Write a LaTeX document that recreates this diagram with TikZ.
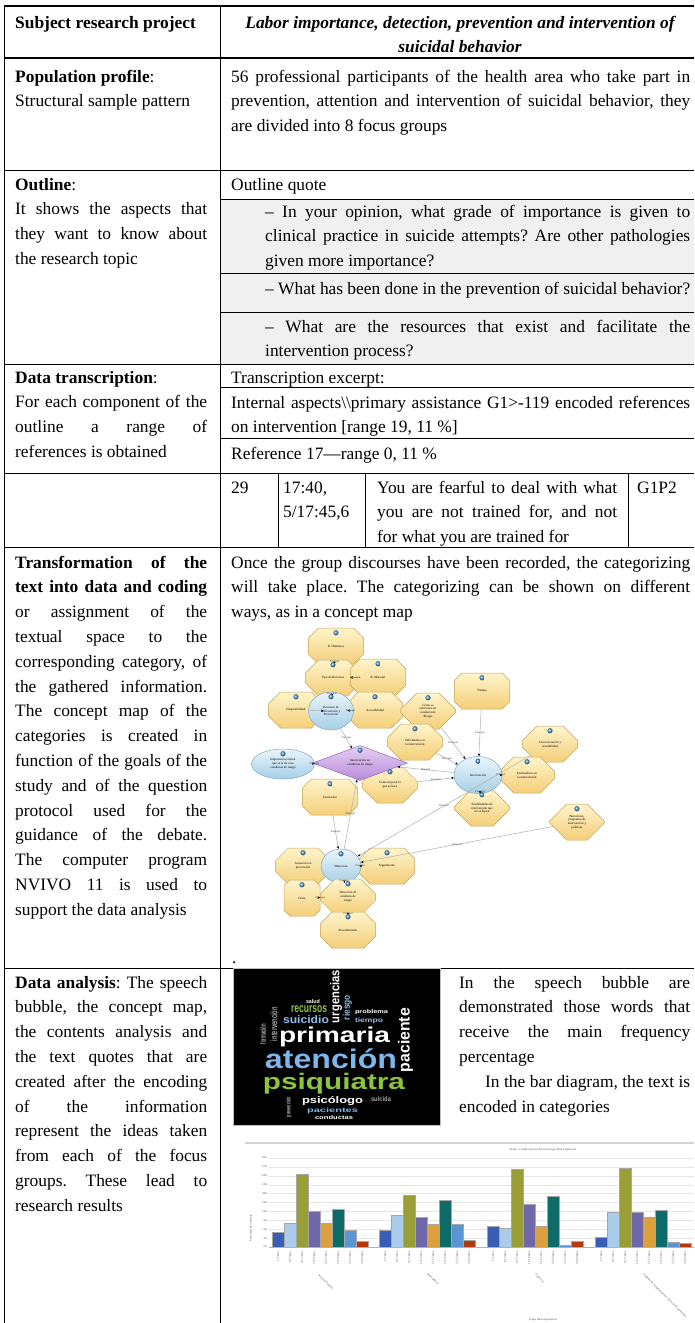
\documentclass[tikz,border=0pt]{standalone}
\usepackage{fontspec}
\usepackage{graphicx}
\setmainfont{Liberation Serif}
\newfontfamily\cloudfont{Liberation Sans}
\usetikzlibrary{arrows.meta, calc, shapes.geometric, shapes.misc}
\definecolor{quotebg}{HTML}{F0F0F0}
\definecolor{octtop}{HTML}{FFF4CC}
\definecolor{octbot}{HTML}{F4CF78}
\definecolor{octline}{HTML}{C4A45A}
\definecolor{bubtop}{HTML}{EAF5FB}
\definecolor{bubbot}{HTML}{A6CFE6}
\definecolor{bubline}{HTML}{7FA9C4}
\definecolor{diatop}{HTML}{E6D0F4}
\definecolor{diabot}{HTML}{B98AD8}
\definecolor{dialine}{HTML}{9467B8}
\definecolor{knobc}{HTML}{4A9AD8}
\definecolor{atenc}{HTML}{7DB6EC}
\definecolor{psiq}{HTML}{8CC43C}
\definecolor{suic}{HTML}{8FBDE9}
\definecolor{bar1}{HTML}{3A5DB5}
\definecolor{bar2}{HTML}{A9CCEA}
\definecolor{bar3}{HTML}{9A9E36}
\definecolor{bar4}{HTML}{6F68A8}
\definecolor{bar5}{HTML}{DDA03E}
\definecolor{bar6}{HTML}{0E6B67}
\definecolor{bar7}{HTML}{5B94D2}
\definecolor{bar8}{HTML}{B23A0E}
\frenchspacing
\newcommand\jl[1]{\makebox[\linewidth][s]{#1}\par}
\newcommand\mapfont{\fontsize{3.2}{3.8}\selectfont}
\newcommand\wc[3]{\resizebox*{#1pt}{#2pt}{\cloudfont\bfseries #3}}
\tikzset{
    cell/.style={anchor=base west, inner sep=0pt},
    rul/.style={line width=0.9pt},
    thk/.style={line width=2.6pt},
    oct/.style={chamfered rectangle, chamfered rectangle xsep=16pt, chamfered rectangle ysep=11pt, minimum width=55pt, minimum height=36pt, inner sep=0.5pt, draw=octline, line width=0.5pt, top color=octtop, bottom color=octbot, align=center, font=\mapfont},
    bub/.style={ellipse, draw=bubline, line width=0.5pt, top color=bubtop, bottom color=bubbot, minimum width=45pt, minimum height=38pt, inner sep=0pt, align=center, font=\mapfont},
    rhomb/.style={diamond, aspect=2.7, draw=dialine, line width=0.5pt, top color=diatop, bottom color=diabot, minimum width=95pt, minimum height=35pt, inner sep=0pt, align=center, font=\mapfont},
    ed/.style={draw=gray!60, line width=0.55pt, -{Stealth[length=2.8pt, width=2.4pt, color=black]}},
    lbl/.style={font=\fontsize{2.6}{3}\selectfont, inner sep=0.3pt, text=black!80},
    knob/.style={ball color=knobc},
    cw/.style={inner sep=0pt},
    tk/.style={font=\fontsize{2.8}{3}\selectfont, inner sep=0.5pt, text=black!75},
    gridln/.style={draw=gray!20, line width=0.3pt}
}
\begin{document}
\begin{tikzpicture}[x=1pt, y=-1pt, font=\fontsize{17.4}{24.8}\selectfont]
\useasboundingbox (0,0) rectangle (694,1323);
\fill[quotebg] (220,199) rectangle (694,364);
\draw[thk] (4,6) -- (694,6);
\draw[thk] (4,58) -- (694,58);
\foreach \y in {170,364,473,547,968} \draw[rul] (4,\y) -- (694,\y);
\foreach \y in {199,273,312,387,438} \draw[rul] (220,\y) -- (694,\y);
\draw[rul] (4,6) -- (4,1323);
\draw[rul] (220,6) -- (220,1323);
\foreach \x in {278,365,628} \draw[rul] (\x,473) -- (\x,547);

\node[cell] (subj) at (15,28) {\textbf{Subject research project}};
\node[anchor=base, inner sep=0pt] (title) at (460,28) {\parbox[t]{470pt}{\centering\bfseries\itshape Labor importance, detection, prevention and intervention of\\ suicidal behavior}};

\node[cell] (popL) at (15,82) {\parbox[t]{192pt}{\textbf{Population profile}:\par Structural sample pattern}};
\node[cell] (popR) at (231,82) {\parbox[t]{459pt}{\jl{56 professional participants of the health area who take part in}\jl{prevention, attention and intervention of suicidal behavior, they}are divided into 8 focus groups}};

\node[cell] (outL) at (15,190) {\parbox[t]{192pt}{\textbf{Outline}:\par\jl{It shows the aspects that}\jl{they want to know about}the research topic}};
\node[cell] (outQ) at (231,190) {Outline quote};
\node[cell] (q1) at (265,217) {\parbox[t]{425pt}{\jl{– In your opinion, what grade of importance is given to}\jl{clinical practice in suicide attempts? Are other pathologies}given more importance?}};
\node[cell] (q2) at (265,294) {\parbox[t]{425pt}{\jl{– What has been done in the prevention of suicidal behavior?}}};
\node[cell] (q3) at (265,332) {\parbox[t]{425pt}{\jl{– What are the resources that exist and facilitate the}intervention process?}};

\node[cell] (dtL) at (15,383) {\parbox[t]{192pt}{\textbf{Data transcription}:\par\jl{For each component of the}\jl{outline a range of}references is obtained}};
\node[cell] (dtR) at (231,383) {Transcription excerpt:};
\node[cell] (intR) at (231,408) {\parbox[t]{459pt}{\jl{Internal aspects\textbackslash\textbackslash primary assistance G1>-119 encoded references}on intervention [range 19, 11 \%]}};
\node[cell] (refR) at (231,459) {Reference 17—range 0, 11 \%};

\node[cell] (n29) at (231,493) {29};
\node[cell] (tm) at (283,493) {\parbox[t]{80pt}{17:40,\par 5/17:45,6}};
\node[cell] (qt) at (377,493) {\parbox[t]{240pt}{\jl{You are fearful to deal with what}\jl{you are not trained for, and not}for what you are trained for}};
\node[cell] (gp) at (637,493) {G1P2};

\node[cell] (trL) at (15,568) {\parbox[t]{192pt}{\jl{\textbf{Transformation of the}}\jl{\textbf{text into data and coding}}\jl{or assignment of the}\jl{textual space to the}\jl{corresponding category, of}\jl{the gathered information.}\jl{The concept map of the}\jl{categories is created in}\jl{function of the goals of the}\jl{study and of the question}\jl{protocol used for the}\jl{guidance of the debate.}\jl{The computer program}\jl{NVIVO 11 is used to}support the data analysis}};
\node[cell] (trR) at (231,568) {\parbox[t]{459pt}{\jl{Once the group discourses have been recorded, the categorizing}\jl{will take place. The categorizing can be shown on different}ways, as in a concept map}};
\node[cell] (dot) at (232,963) {.};

\node[cell] (daL) at (15,988) {\parbox[t]{192pt}{\jl{\textbf{Data analysis}: The speech}\jl{bubble, the concept map,}\jl{the contents analysis and}\jl{the text quotes that are}\jl{created after the encoding}\jl{of the information}\jl{represent the ideas taken}\jl{from each of the focus}\jl{groups. These lead to}research results}};
\node[cell] (daR) at (459,988) {\parbox[t]{231pt}{\jl{In the speech bubble are}\jl{demonstrated those words that}\jl{receive the main frequency}percentage\par\jl{\hspace*{26pt}In the bar diagram, the text is}encoded in categories}};

% concept map
\node[oct] (rh) at (336,646) {R. Humanos};
\node[oct] (tr) at (333,678) {Tipo de Recursos};
\node[oct] (rm) at (378,677) {R. Material};
\node[oct] (disp) at (296,710) {Disponibilidad};
\node[oct] (acc) at (375,710) {Accesibilidad};
\node[bub] (rec) at (331,711) {Recursos de\\intervención y\\Prevención};
\node[oct] (como) at (428,711) {Cómo se\\interviene en\\conducta de\\Riesgo};
\node[oct] (tie) at (482,691) {Tiempo};
\node[oct] (dif) at (415,742) {Dificultades en\\la intervención};
\node[oct] (conc) at (550,744) {Concienciación y\\sensibilidad};
\node[oct] (fac) at (527,775) {Facilitadores en\\la intervención};
\node[oct] (pos) at (482,808) {Posibilidades de\\intervención que\\no se hacen};
\node[bub, minimum width=48pt, minimum height=37pt] (int) at (478,775) {Intervención};
\node[bub, minimum width=63pt, minimum height=30pt] (imp) at (283,764) {Importancia laboral\\que se le da a las\\conductas de riesgo};
\node[oct] (mej) at (390,785) {Cómo mejorar lo\\que se hace};
\node[oct] (form) at (330,797) {Formación};
\node[rhomb] (dia) at (360,763) {Intervención en\\conductas de riesgo};
\node[oct] (bur) at (577,822) {Burocracia,\\programas de\\intervención y\\políticas};
\node[oct] (act) at (303,866) {Actuación en\\prevención};
\node[oct] (seg) at (387,866) {Seguimiento};
\node[bub, minimum width=40pt, minimum height=34pt] (det) at (341,866) {Detección};
\node[oct] (dcr) at (348,897) {Detección de\\conducta de\\riesgo};
\node[oct, minimum width=36pt, chamfered rectangle xsep=11pt] (cri) at (302,898) {Crisis};
\node[oct] (proc) at (348,930) {Procedimiento};

\draw[ed] (rec) -- (disp);
\foreach \a/\b in {tr/rh, tr/rm, rec/tr, rec/acc, rec/dia, dia/imp, int/dia, mej/int, como/int, dif/int, tie/int, int/fac, pos/int, bur/det, conc/det, form/det, det/dia, det/seg, dcr/det, dcr/cri, proc/dcr}
    \draw[ed] (\a) -- node[lbl] {Principal} (\b);
\foreach \n in {rh, tr, rm, disp, acc, rec, como, tie, dif, conc, fac, pos, int, imp, mej, form, dia, bur, act, seg, det, dcr, cri, proc}
    \shade[knob] ($(\n.north)+(0,5)$) circle (2.6);

% word cloud
\filldraw[fill=black, draw=gray!50, line width=0.6pt] (233,968) rectangle (440,1125);
\node[cw, text=white] (wprim) at (334.5,1037) {\wc{111}{20}{primaria}};
\node[cw, text=atenc] (waten) at (331,1058.5) {\wc{132}{20}{atención}};
\node[cw, text=psiq] (wpsiq) at (334,1083.5) {\wc{142}{21}{psiquiatra}};
\node[cw, text=white, rotate=90] (wpac) at (405.5,1040) {\wc{64}{15}{paciente}};
\node[cw, text=white, rotate=90] (wurg) at (336,996.5) {\wc{53}{12}{urgencias}};
\node[cw, text=suic, rotate=90] (wries) at (347.5,1007.5) {\wc{25}{9}{riesgo}};
\node[cw, text=suic] (wsuic) at (306,1019.5) {\wc{46}{8}{suicidio}};
\node[cw, text=psiq] (wrec) at (309,1009.5) {\wc{36}{7}{recursos}};
\node[cw, text=white] (wprob) at (371.5,1012) {\wc{33}{5}{problema}};
\node[cw, text=suic] (wtiem) at (369,1020.5) {\wc{28}{6}{tiempo}};
\node[cw, text=white] (wsal) at (313,1002) {\wc{14}{4}{salud}};
\node[cw, text=white] (wpsic) at (332.5,1101.5) {\wc{61}{9}{psicólogo}};
\node[cw, text=atenc] (wpacs) at (332.5,1110.5) {\wc{51}{6}{pacientes}};
\node[cw, text=white!85] (wcond) at (334,1117.5) {\wc{38}{4}{conductas}};
\node[cw, text=gray!70, rotate=90] (wint) at (274,1024) {\wc{34}{7}{intervención}};
\node[cw, text=gray!60, rotate=90] (wform) at (263,1034) {\wc{20}{6}{formación}};
\node[cw, text=gray!70] (wsuid) at (381,1099) {\wc{20}{5}{suicida}};
\node[cw, text=gray!60, rotate=90] (wprev) at (289,1107) {\wc{20}{6}{prevención}};

% bar chart
\draw[gray!35, line width=1.6pt] (245,1143) -- (694,1143);
\node[tk] (ctitle) at (543,1150) {Nodos - Codificación por Persona Grupo Años Experiencia};
\foreach \i in {0,...,10}{
    \pgfmathtruncatemacro\pc{3*\i}
    \draw[gridln] (269,{1247-8.9*\i}) -- (694,{1247-8.9*\i});
    \node[tk, anchor=east] (yl\i) at (268,{1247-8.9*\i}) {\pc\%};
}
\node[tk, rotate=90] (ytitle) at (251,1228) {Porcentaje de cobertura};
\foreach \gx/\hs in {272/{15,24.3,73.3,36,23.7,38.3,16.7,5.7}, 379/{16.7,31.7,52,30,23.3,47.3,22.7,7}, 487/{21.3,19,78.3,42.7,21.3,51,2,5.7}, 595/{10,35.3,79.3,35.3,29.7,37.3,5,3.7}}
    \foreach \h [count=\k] in \hs
        \filldraw[fill=bar\k, draw=black!35, line width=0.2pt] ({\gx+12*(\k-1)},1247) rectangle ++(12,-\h);
\draw[gray!60, line width=0.5pt] (269,1247) -- (694,1247);
\foreach \gx [count=\g] in {272,379,487,595}
    \foreach \ag [count=\k] in {0-5 años,6-10 años,11-15 años,16-20 años,21-25 años,26-30 años,31-35 años,36-40 años}
        \node[tk, rotate=90, anchor=east] (x\g\k) at ({\gx+12*\k-6},1251) {\ag};
\node[tk, rotate=-45, anchor=west] (g1) at (318,1274) {Atención Primaria};
\node[tk, rotate=-45, anchor=west] (g2) at (427,1273) {Salud Mental};
\node[tk, rotate=-45, anchor=west] (g3) at (535,1274) {Urgencias};
\node[tk, rotate=-45, anchor=west] (g4) at (643,1274) {Unidades de hospitalización y servicios de psiquiatría};
\node[tk] (xtitle) at (543,1320) {Grupo Años Experiencia};
\end{tikzpicture}
\end{document}
